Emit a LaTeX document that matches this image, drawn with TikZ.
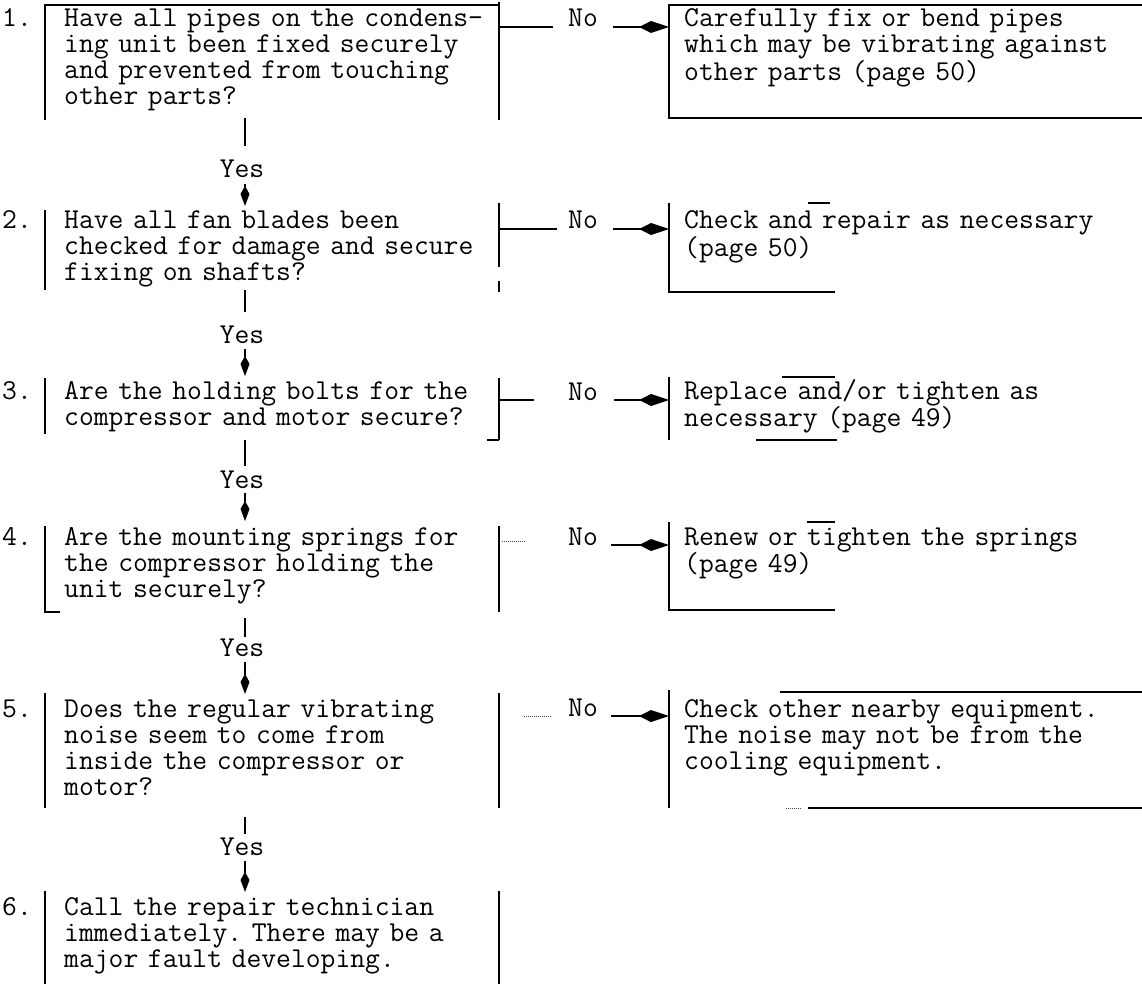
\documentclass[tikz,border=0pt]{standalone}
\usetikzlibrary{arrows.meta}
\begin{document}
\begin{tikzpicture}[x=1pt,y=-1pt,
  every node/.style={font=\ttfamily\fontsize{28.8}{26}\selectfont\frenchspacing, inner sep=0pt, text=black},
  qtext/.style={anchor=base west, text width=440pt, align=left},
  atext/.style={anchor=base west, text width=455pt, align=left},
  numtext/.style={anchor=base west},
  lbl/.style={anchor=base},
  rule/.style={line width=1.4pt, draw=black},
  faint/.style={line width=1pt, draw=black!70, densely dotted},
  harrow/.style={rule, -{Kite[length=30pt,width=12pt,inset=12pt]}},
  varrow/.style={rule, -{Kite[length=20pt,width=9pt,inset=8pt]}},
]
\fill[white] (0,0) rectangle (1142,984);
\useasboundingbox (0,0) rectangle (1142,984);

% ---------- numbers ----------
\node[numtext] (n1) at (2,27)  {1.};
\node[numtext] (n2) at (2,229) {2.};
\node[numtext] (n3) at (2,399) {3.};
\node[numtext] (n4) at (2,545) {4.};
\node[numtext] (n5) at (2,717) {5.};
\node[numtext] (n6) at (2,915) {6.};

% ---------- questions ----------
\node[qtext] (q1) at (64,27)  {Have all pipes on the condens-\\ing unit been fixed securely\\and prevented from touching\\other parts?};
\node[qtext] (q2) at (64,229) {Have all fan blades been\\checked for damage and secure\\fixing on shafts?};
\node[qtext] (q3) at (64,399) {Are the holding bolts for the\\compressor and motor secure?};
\node[qtext] (q4) at (64,545) {Are the mounting springs for\\the compressor holding the\\unit securely?};
\node[qtext] (q5) at (64,717) {Does the regular vibrating\\noise seem to come from\\inside the compressor or\\motor?};
\node[qtext] (q6) at (64,915) {Call the repair technician\\immediately. There may be a\\major fault developing.};

% ---------- actions ----------
\node[atext] (a1) at (684,27)  {Carefully fix or bend pipes\\which may be vibrating against\\other parts (page 50)};
\node[atext] (a2) at (684,229) {Check and repair as necessary\\(page 50)};
\node[atext] (a3) at (684,399) {Replace and/or tighten as\\necessary (page 49)};
\node[atext] (a4) at (684,545) {Renew or tighten the springs\\(page 49)};
\node[atext] (a5) at (684,717) {Check other nearby equipment.\\The noise may not be from the\\cooling equipment.};

% ---------- left box borders ----------
\draw[rule] (45,120) -- (45,5) -- (499,5);
\draw[rule] (499,2) -- (499,120);
\draw[rule] (45,210) -- (45,290);
\draw[rule] (499,203) -- (499,267);
\draw[rule] (499,281) -- (499,292);
\draw[rule] (45,378) -- (45,434);
\draw[rule] (499,378) -- (499,440);
\draw[rule] (487,440) -- (499,440);
\draw[rule] (60,612) -- (45,612) -- (45,526);
\draw[rule] (499,526) -- (499,612);
\draw[rule] (45,693) -- (45,808);
\draw[rule] (499,693) -- (499,808);
\draw[rule] (45,891) -- (45,984);
\draw[rule] (499,891) -- (499,984);

% ---------- right box borders ----------
\coordinate (r1l) at (669,27);
\coordinate (r2l) at (669,229);
\coordinate (r3l) at (669,400);
\coordinate (r4l) at (669,545);
\coordinate (r5l) at (669,716);
\draw[rule] (1142,5) -- (669,5) -- (669,118) -- (1142,118);
\draw[rule] (669,203) -- (669,292) -- (835,292);
\draw[rule] (808,203) -- (830,203);
\draw[rule] (669,377) -- (669,440);
\draw[rule] (782,377) -- (835,377);
\draw[rule] (756,440) -- (837,440);
\draw[rule] (669,522) -- (669,610) -- (835,610);
\draw[rule] (807,522) -- (835,522);
\draw[rule] (669,690) -- (669,808);
\draw[rule] (780,692) -- (1142,692);
\draw[rule] (808,808) -- (1142,808);
\draw[faint] (786,808) -- (802,808);

% ---------- "No" branches ----------
\node[lbl] (no1) at (583,27)  {No};
\node[lbl] (no2) at (583,229) {No};
\node[lbl] (no3) at (583,400) {No};
\node[lbl] (no4) at (583,545) {No};
\node[lbl] (no5) at (583,716) {No};

\coordinate (b1r) at (499,27);
\coordinate (b2r) at (499,229);
\coordinate (b3r) at (499,400);
\coordinate (b4r) at (502,541);
\coordinate (b5r) at (524,716);

\draw[rule] (b1r) -- ([xshift=-15pt]b1r -| no1.west);
\draw[harrow] ([xshift=15pt]no1.east |- r1l) -- (r1l);
\draw[rule] (b2r) -- ([xshift=-11pt]b2r -| no2.west);
\draw[harrow] ([xshift=15pt]no2.east |- r2l) -- (r2l);
\draw[rule] (b3r) -- ([xshift=-34pt]b3r -| no3.west);
\draw[harrow] ([xshift=16pt]no3.east |- r3l) -- (r3l);
\draw[faint] (b4r) -- ([xshift=-43pt]b4r -| no4.west);
\draw[harrow] ([xshift=13pt]no4.east |- r4l) -- (r4l);
\draw[faint] (b5r) -- ([xshift=-16pt]b5r -| no5.west);
\draw[harrow] ([xshift=13pt]no5.east |- r5l) -- (r5l);

% ---------- "Yes" branches ----------
\node[lbl] (y1) at (242,178) {Yes};
\node[lbl] (y2) at (242,343) {Yes};
\node[lbl] (y3) at (242,488) {Yes};
\node[lbl] (y4) at (242,656) {Yes};
\node[lbl] (y5) at (242,855) {Yes};

\coordinate (v1a) at (245,118); \coordinate (v1b) at (245,146);
\coordinate (v1c) at (245,184); \coordinate (v1d) at (245,206);
\coordinate (v2a) at (245,290); \coordinate (v2b) at (245,312);
\coordinate (v2c) at (245,349); \coordinate (v2d) at (245,376);
\coordinate (v3a) at (245,440); \coordinate (v3b) at (245,466);
\coordinate (v3c) at (245,493); \coordinate (v3d) at (245,521);
\coordinate (v4a) at (245,618); \coordinate (v4b) at (245,637);
\coordinate (v4c) at (245,662); \coordinate (v4d) at (245,694);
\coordinate (v5a) at (245,817); \coordinate (v5b) at (245,834);
\coordinate (v5c) at (245,861); \coordinate (v5d) at (245,892);

\draw[rule] (v1a) -- (v1b);  \draw[varrow] (v1c) -- (v1d);
\draw[rule] (v2a) -- (v2b);  \draw[varrow] (v2c) -- (v2d);
\draw[rule] (v3a) -- (v3b);  \draw[varrow] (v3c) -- (v3d);
\draw[rule] (v4a) -- (v4b);  \draw[varrow] (v4c) -- (v4d);
\draw[rule] (v5a) -- (v5b);  \draw[varrow] (v5c) -- (v5d);
\end{tikzpicture}
\end{document}
